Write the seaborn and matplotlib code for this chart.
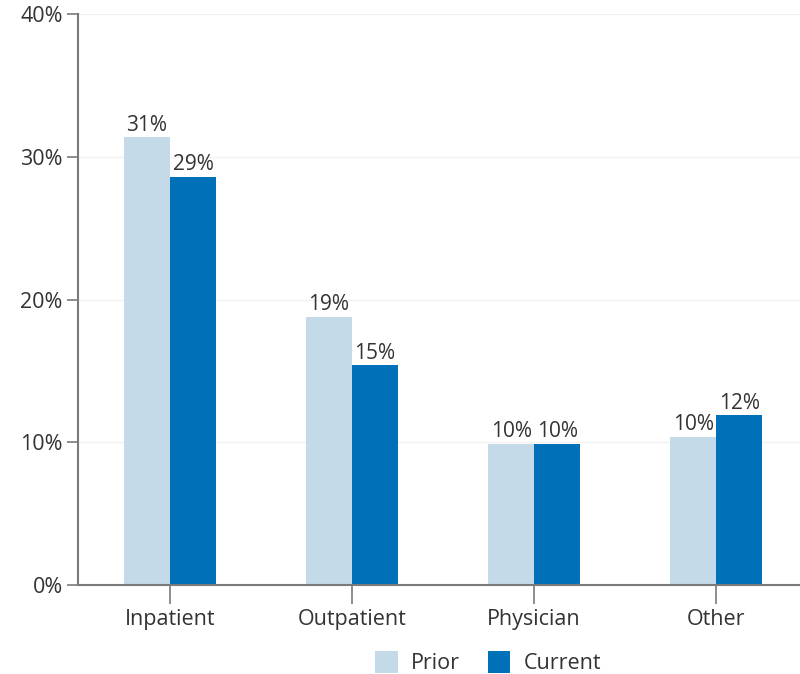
import matplotlib
matplotlib.use("Agg")
import matplotlib.pyplot as plt
import seaborn as sns
import pandas as pd
from matplotlib.ticker import FuncFormatter

categories = ["Inpatient", "Outpatient", "Physician", "Other"]
prior = [31.4, 18.8, 9.9, 10.4]
current = [28.6, 15.4, 9.9, 11.9]
prior_labels = ["31%", "19%", "10%", "10%"]
current_labels = ["29%", "15%", "10%", "12%"]
series = ["Prior", "Current"]
yticks = [0, 10, 20, 30, 40]

df = pd.DataFrame({
    "category": categories * 2,
    "value": prior + current,
    "series": [series[0]] * 4 + [series[1]] * 4,
})

sns.set_theme(style="white")
plt.rcParams["font.family"] = ["Open Sans", "DejaVu Sans"]

fig = plt.figure(figsize=(8, 6.74), dpi=100)
ax = fig.add_axes([0.0975, 0.132, 0.9025, 0.847])

palette = {"Prior": "#c5dae8", "Current": "#0071b9"}
sns.barplot(data=df, x="category", y="value", hue="series", order=categories,
            hue_order=series, palette=palette, width=0.505, saturation=1,
            linewidth=0, ax=ax, legend=True)

ax.set_ylim(0, 40)
ax.set_xlim(-0.505, 3.46)
ax.set_yticks(yticks)
ax.yaxis.set_major_formatter(FuncFormatter(lambda v, p: f"{int(v)}%"))
ax.set_xlabel("")
ax.set_ylabel("")
ax.grid(axis="y", color="#f1f1f1", linewidth=1)
ax.set_axisbelow(True)

for s in ["top", "right"]:
    ax.spines[s].set_visible(False)
for s in ["left", "bottom"]:
    ax.spines[s].set_color("#7a7a7a")
    ax.spines[s].set_linewidth(1.5)

ax.tick_params(axis="y", length=8, width=1.2, color="#7a7a7a", labelsize=15.5,
               labelcolor="#333333", pad=3, left=True)
ax.tick_params(axis="x", length=14, width=1.2, color="#7a7a7a", labelsize=15.5,
               labelcolor="#333333", pad=3, bottom=True)

for cont, labs in zip(ax.containers, [prior_labels, current_labels]):
    ax.bar_label(cont, labels=labs, fontsize=15, color="#333333", padding=1)

handles, lbls = ax.get_legend_handles_labels()
ax.legend_.remove()
fig.legend(handles, lbls, loc="center", bbox_to_anchor=(0.61, 0.017), ncol=2,
           frameon=False, fontsize=15.5, handlelength=1.05, handleheight=1.2,
           columnspacing=1.3, handletextpad=0.6, labelcolor="#333333")

fig.savefig("out.png", dpi=100)
